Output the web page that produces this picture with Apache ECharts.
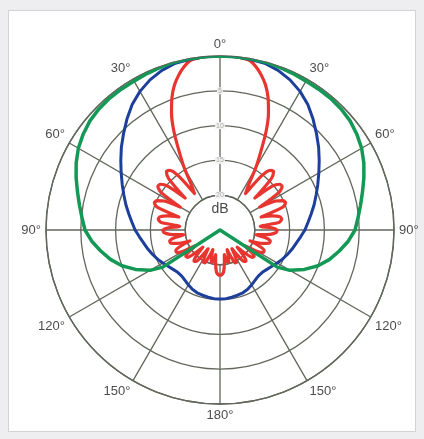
<!DOCTYPE html>
<html>
<head>
<meta charset="utf-8">
<script src="https://cdn.jsdelivr.net/npm/echarts/dist/echarts.min.js"></script>
<style>
  html, body { margin: 0; padding: 0; background: #eeeef1; }
  #panel { position: absolute; left: 8px; top: 10px; width: 406px; height: 420px; background: #fff; border: 1px solid #d3d3d6; }
  #chart { position: absolute; left: 0; top: 0; width: 424px; height: 439px; }
</style>
</head>
<body>
<div id="panel"></div>
<div id="chart"></div>
<script>
// response in dB (0 = on axis), read for 0..180 deg; the patterns are symmetric
const greenAngles = [0, 5, 10, 15, 20, 25, 30, 35, 40, 45, 50, 55, 60, 65, 70, 75, 80, 85, 90,
  95, 100, 105, 110, 115, 120, 123, 124.5, 150, 180]
const greenDb = [0, 0, 0, 0, -0.1, -0.2, -0.3, -0.3, -0.3, -0.4, -0.6, -1.0, -1.5, -2.2, -3.0, -3.8, -4.5, -5.1, -5.6,
  -6.5, -7.6, -8.7, -10.0, -11.6, -13.4, -15.2, -25, -25, -25]

const blueAngles = [0, 5, 10, 15, 20, 25, 30, 35, 40, 45, 50, 55, 60, 65, 70, 75, 80, 85, 90,
  95, 100, 105, 110, 115, 120, 125, 130, 135, 140, 145, 150, 155, 160, 165, 170, 175, 180]
const blueDb = [0, 0, -0.1, -0.2, -0.6, -1.2, -2.0, -3.0, -4.2, -5.4, -6.5, -7.6, -8.6, -9.5, -10.3, -11.0, -11.7, -12.3, -12.8,
  -13.4, -13.9, -14.3, -14.7, -15.1, -15.5, -15.9, -16.2, -16.4, -16.4, -16.2, -15.9, -15.6, -15.4, -15.3, -15.2, -15.1, -15.1]

const redAngles = [0, 2.5, 5, 7.5, 10, 12.5, 15, 17.5, 20, 22.5, 25, 27.5, 30, 32.5, 35,
  37.5, 40, 42.5, 45, 47.5,
  50, 52.5, 55, 57.5, 60,
  62.5, 65, 67.5, 70, 72.5,
  75, 77.5, 80, 82.5, 85,
  87.5, 90, 92.5, 95, 97.5,
  100, 102.5, 105, 107.5, 110,
  112.5, 115, 117.5, 120, 122.5,
  125, 127.5, 130, 132.5, 135,
  137.5, 140, 142.5, 145, 147.5,
  150, 152.5, 155, 157.5, 160,
  162.5, 165, 167.5, 170, 172.5,
  175, 177.5, 180]
const redDb = [0, 0, 0, -0.1, -0.3, -1.0, -2.0, -3.2, -4.8, -6.8, -9.3, -12.3, -14.8, -17.4, -18.6,
  -15.2, -13.8, -13.6, -14.6, -18.2,
  -15.2, -14.2, -14.1, -15.0, -18.4,
  -16.0, -15.0, -14.8, -15.4, -18.8,
  -17.2, -16.2, -16.0, -16.4, -19.2,
  -17.6, -16.8, -16.9, -17.8, -19.8,
  -18.2, -17.6, -17.7, -18.6, -20.4,
  -18.8, -18.0, -18.0, -19.0, -20.8,
  -19.6, -18.8, -18.9, -20.0, -21.5,
  -20.0, -19.2, -19.3, -20.4, -21.8,
  -20.6, -19.8, -19.8, -20.8, -22.0,
  -21.0, -20.2, -20.4, -21.4, -20.2,
  -19.0, -18.6, -18.5]

const ringTicks = [-20, -15, -10, -5, 0]

const CX = 220
const CY = 230
const R = 174
const gridColor = '#62675b'

// right half as read, left half mirrored
function both(angles, db) {
  let pts = angles.map((a, i) => [db[i], a])
  for (let i = angles.length - 2; i >= 0; i--) {
    pts.push([db[i], 360 - angles[i]])
  }
  return pts
}

var myChart = echarts.init(document.getElementById('chart'))
myChart.setOption({
  animation: false,
  polar: [
    { center: [CX, CY], radius: [R * 5 / 25, R] },
    { center: [CX, CY], radius: [0, R] }
  ],
  angleAxis: [
    {
      polarIndex: 0,
      type: 'value',
      min: 0,
      max: 360,
      interval: 30,
      startAngle: 90,
      clockwise: true,
      axisLine: { show: true, lineStyle: { color: gridColor, width: 1.4 } },
      axisTick: { show: false },
      splitLine: { show: true, lineStyle: { color: gridColor, width: 1.3 } },
      axisLabel: {
        formatter: v => (v <= 180 ? v : 360 - v) + '°',
        color: '#4d4d4d',
        fontSize: 13,
        fontFamily: 'Liberation Sans',
        margin: 5
      }
    },
    {
      polarIndex: 1,
      type: 'value',
      min: 0,
      max: 360,
      startAngle: 90,
      clockwise: true,
      show: false
    }
  ],
  radiusAxis: [
    {
      polarIndex: 0,
      type: 'value',
      min: ringTicks[0],
      max: ringTicks[ringTicks.length - 1],
      interval: 5,
      axisLine: { show: false },
      axisTick: { show: false },
      splitLine: { show: true, lineStyle: { color: gridColor, width: 1.3 } },
      axisLabel: {
        formatter: v => (v === 0 ? '' : String(-v)),
        fontSize: 7,
        color: '#a8a8a8',
        align: 'center',
        verticalAlign: 'middle',
        margin: 0,
        backgroundColor: '#f2f2f2',
        padding: [0, 1]
      }
    },
    {
      polarIndex: 1,
      type: 'value',
      min: -25,
      max: 0,
      show: false
    }
  ],
  graphic: [
    {
      type: 'text',
      x: CX,
      y: CY - 21,
      style: { text: 'dB', font: '14px "Liberation Sans"', fill: '#4a4a4a', align: 'center', verticalAlign: 'middle' }
    }
  ],
  series: [
    {
      name: 'red',
      type: 'line',
      coordinateSystem: 'polar',
      polarIndex: 1,
      data: both(redAngles, redDb),
      symbol: 'none',
      smooth: 0.25,
      lineStyle: { color: '#e9352f', width: 3.2, join: 'round' },
      z: 3
    },
    {
      name: 'blue',
      type: 'line',
      coordinateSystem: 'polar',
      polarIndex: 1,
      data: both(blueAngles, blueDb),
      symbol: 'none',
      lineStyle: { color: '#1d3f9c', width: 3, join: 'round' },
      z: 4
    },
    {
      name: 'green',
      type: 'line',
      coordinateSystem: 'polar',
      polarIndex: 1,
      data: both(greenAngles, greenDb),
      symbol: 'none',
      lineStyle: { color: '#139955', width: 3.5, join: 'round' },
      z: 5
    }
  ]
})
</script>
</body>
</html>
